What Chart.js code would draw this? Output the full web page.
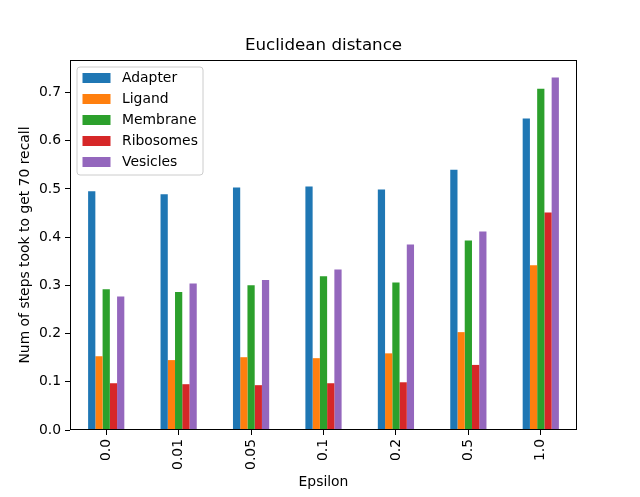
<!DOCTYPE html>
<html lang="en">
<head>
  <meta charset="UTF-8" />
  <title>Euclidean distance</title>
  <script src="https://cdn.jsdelivr.net/npm/chart.js"></script>
  <style>
    body { margin: 0; background: #fff; }
    #wrap { width: 640px; height: 497px; }
  </style>
</head>
<body>
  <div id="wrap"><canvas id="chart" width="640" height="497"></canvas></div>
  <script>
const epsilons = ["0.0", "0.01", "0.05", "0.1", "0.2", "0.5", "1.0"];
const adapter   = [0.495, 0.489, 0.503, 0.505, 0.499, 0.540, 0.646];
const ligand    = [0.153, 0.145, 0.151, 0.149, 0.159, 0.203, 0.342];
const membrane  = [0.292, 0.286, 0.300, 0.319, 0.306, 0.393, 0.708];
const ribosomes = [0.097, 0.095, 0.093, 0.097, 0.099, 0.135, 0.451];
const vesicles  = [0.277, 0.304, 0.311, 0.333, 0.385, 0.412, 0.731];
const yTicks = [0, 0.1, 0.2, 0.3, 0.4, 0.5, 0.6, 0.7];

const FONT = '"DejaVu Sans", sans-serif';
const colors = ['#1f77b4', '#ff7f0e', '#2ca02c', '#d62728', '#9467bd'];
const names = ['Adapter', 'Ligand', 'Membrane', 'Ribosomes', 'Vesicles'];
const series = [adapter, ligand, membrane, ribosomes, vesicles];

// frame, title and the legend that sits inside the axes
const extras = {
  id: 'extras',
  afterDraw(chart) {
    const { ctx, chartArea: a } = chart;
    ctx.save();
    ctx.strokeStyle = '#000';
    ctx.lineWidth = 1;
    const l = Math.round(a.left) + 0.5, t = Math.round(a.top) + 0.5;
    const r = Math.round(a.right) - 0.5, b = Math.round(a.bottom) - 0.5;
    ctx.strokeRect(l, t, r - l, b - t);

    ctx.fillStyle = '#000';
    ctx.font = '16.7px ' + FONT;
    ctx.textAlign = 'center';
    ctx.textBaseline = 'middle';
    ctx.fillText('Euclidean distance', (a.left + a.right) / 2, 46);

    // legend box
    const bx = a.left + 7, by = a.top + 7, bw = 126, bh = 108, rad = 3;
    ctx.beginPath();
    ctx.moveTo(bx + rad, by);
    ctx.arcTo(bx + bw, by, bx + bw, by + bh, rad);
    ctx.arcTo(bx + bw, by + bh, bx, by + bh, rad);
    ctx.arcTo(bx, by + bh, bx, by, rad);
    ctx.arcTo(bx, by, bx + bw, by, rad);
    ctx.closePath();
    ctx.fillStyle = 'rgba(255,255,255,0.8)';
    ctx.fill();
    ctx.strokeStyle = '#cccccc';
    ctx.stroke();

    ctx.font = '13.9px ' + FONT;
    ctx.textAlign = 'left';
    chart.data.datasets.forEach((ds, i) => {
      const cy = a.top + 18 + i * 21;
      ctx.fillStyle = ds.backgroundColor;
      ctx.fillRect(a.left + 12.5, cy - 5, 28, 10);
      ctx.fillStyle = '#000';
      ctx.fillText(ds.label, a.left + 52, cy);
    });
    ctx.restore();
  }
};

new Chart(document.getElementById('chart'), {
  type: 'bar',
  data: {
    labels: epsilons,
    datasets: series.map((d, i) => ({
      label: names[i],
      data: d,
      backgroundColor: colors[i],
      borderWidth: 0,
      categoryPercentage: 0.5,
      barPercentage: 1.0
    }))
  },
  options: {
    responsive: false,
    animation: false,
    layout: { padding: { top: 60, right: 63, bottom: 0, left: 0 } },
    plugins: { legend: { display: false }, title: { display: false }, tooltip: { enabled: false } },
    scales: {
      x: {
        afterFit: s => { s.height = 67; },
        grid: { display: true, drawOnChartArea: false, offset: false, tickLength: 5, color: '#000', lineWidth: 1 },
        border: { display: false },
        ticks: { autoSkip: false, minRotation: 90, maxRotation: 90, padding: 4, color: '#000', font: { family: FONT, size: 13.9 } },
        title: { display: true, text: 'Epsilon', color: '#000', font: { family: FONT, size: 13.9 }, padding: { top: 0, bottom: 6.5 } }
      },
      y: {
        min: 0,
        max: 0.7675,
        afterFit: s => { s.width = 70; },
        afterBuildTicks: s => { s.ticks = yTicks.map(v => ({ value: v })); },
        grid: { display: true, drawOnChartArea: false, tickLength: 5, color: '#000', lineWidth: 1 },
        border: { display: false },
        ticks: { padding: 4, color: '#000', font: { family: FONT, size: 13.9 }, callback: v => v.toFixed(1) },
        title: { display: true, text: 'Num of steps took to get 70 recall', color: '#000', font: { family: FONT, size: 13.9 }, padding: { top: 17, bottom: 0 } }
      }
    }
  },
  plugins: [extras]
});
  </script>
</body>
</html>
